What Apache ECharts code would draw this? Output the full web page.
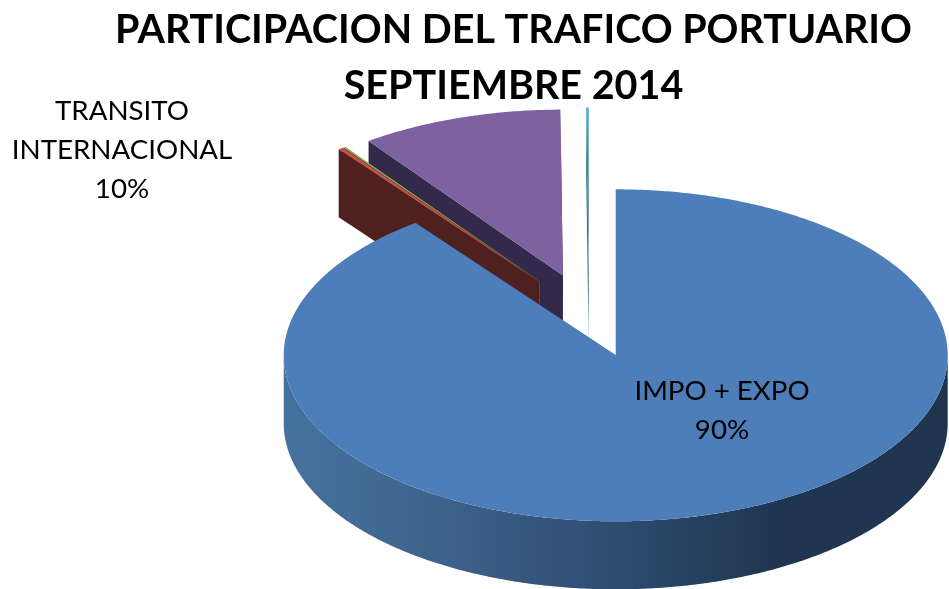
<!DOCTYPE html>
<html>
<head>
<meta charset="utf-8">
<style>
    html, body { margin: 0; padding: 0; background: #fff; }
    #container { width: 949px; height: 589px; }
</style>
</head>
<body>
<div id="container"></div>
<script src="https://cdn.jsdelivr.net/npm/echarts@6/dist/echarts.min.js"></script>
<script type="text/javascript">
    // clockwise from 12 o'clock
    var names = ['IMPO + EXPO', '', '', 'TRANSITO\nINTERNACIONAL', ''];
    var values = [89.7, 0.25, 0.1, 9.83, 0.12];
    var topColors = ['#4d7eba', '#c0504d', '#9bbb59', '#7e61a0', '#4bacc6'];
    var wallColors = ['#3a5f8c', '#4e201f', '#4a5a2a', '#33294a', '#2f6b7c'];
    var titleLines = ['PARTICIPACION DEL TRAFICO PORTUARIO', 'SEPTIEMBRE 2014'];

    // pie layout in pixels
    var cx = 589, cy = 315.5, rx = 332, ry = 166, depth = 68, explode = 84;
    var labelAt = [[722, 411], null, null, [122, 150], null];

    var total = values.reduce(function (a, b) { return a + b; }, 0);
    var dom = document.getElementById('container');
    var myChart = echarts.init(dom);

    function rad(deg) { return deg * Math.PI / 180; }

    function sliceInfo(idx) {
        var before = 0;
        for (var i = 0; i < idx; i++) before += values[i];
        var start = before / total * 360;
        var end = (before + values[idx]) / total * 360;
        var mid = (start + end) / 2;
        return {
            start: start,
            end: end,
            x: cx + explode * Math.sin(rad(mid)),
            y: cy - explode * (ry / rx) * Math.cos(rad(mid))
        };
    }

    function rimPoint(s, deg, drop) {
        return [s.x + rx * Math.sin(rad(deg)), s.y - ry * Math.cos(rad(deg)) + (drop || 0)];
    }

    function arcPoints(s, from, to, drop) {
        var pts = [];
        var n = Math.max(2, Math.ceil((to - from) * 2));
        for (var i = 0; i <= n; i++) pts.push(rimPoint(s, from + (to - from) * i / n, drop));
        return pts;
    }

    function poly(points, fill) {
        return { type: 'polygon', shape: { points: points }, style: { fill: fill } };
    }

    function renderSlice(params, api) {
        var idx = api.value(0);
        var s = sliceInfo(idx);
        var apex = [s.x, s.y];
        var apexLow = [s.x, s.y + depth];
        var children = [];

        // radial cut faces
        children.push(poly([apex, rimPoint(s, s.end), rimPoint(s, s.end, depth), apexLow], wallColors[idx]));
        children.push(poly([apex, rimPoint(s, s.start), rimPoint(s, s.start, depth), apexLow], wallColors[idx]));

        // outer wall, only the front half shows
        var from = Math.max(s.start, 90), to = Math.min(s.end, 270);
        if (to > from) {
            var wall = arcPoints(s, from, to, 0).concat(arcPoints(s, from, to, depth).reverse());
            children.push(poly(wall, new echarts.graphic.LinearGradient(0, 0, 1, 0, [
                { offset: 0, color: '#46729f' },
                { offset: 0.2, color: '#3f658f' },
                { offset: 0.5, color: '#2d4c70' },
                { offset: 0.75, color: '#1f3550' },
                { offset: 1, color: '#1f3550' }
            ])));
        }

        // top face
        var fill = topColors[idx];
        if (idx === 4) {
            fill = new echarts.graphic.LinearGradient(0, 0, 0, 1, [
                { offset: 0, color: '#4bacc6' },
                { offset: 0.6, color: '#2f6b7c' },
                { offset: 1, color: '#8fa3a8' }
            ]);
        }
        children.push(poly([apex].concat(arcPoints(s, s.start, s.end, 0)), fill));

        if (labelAt[idx]) {
            children.push({
                type: 'text',
                z2: 10,
                style: {
                    x: labelAt[idx][0],
                    y: labelAt[idx][1],
                    text: names[idx] + '\n' + Math.round(values[idx] / total * 100) + '%',
                    fill: '#000',
                    font: '27.7px Lato',
                    lineHeight: 39,
                    align: 'center',
                    verticalAlign: 'middle'
                }
            });
        }
        return { type: 'group', children: children };
    }

    // painted back to front: the big slice goes last
    var drawOrder = [4, 3, 2, 1, 0];

    var option = {
        animation: false,
        backgroundColor: '#fff',
        title: {
            text: titleLines.join('\n'),
            left: 508.5,
            top: -3,
            textAlign: 'center',
            textStyle: {
                fontFamily: 'Lato',
                fontWeight: 'bold',
                fontSize: 39.5,
                lineHeight: 56,
                color: '#000'
            }
        },
        series: [{
            type: 'custom',
            coordinateSystem: 'none',
            silent: true,
            renderItem: renderSlice,
            data: drawOrder.map(function (i) { return [i, values[i]]; })
        }]
    };

    if (option && typeof option === 'object') {
        myChart.setOption(option);
    }
</script>
</body>
</html>
